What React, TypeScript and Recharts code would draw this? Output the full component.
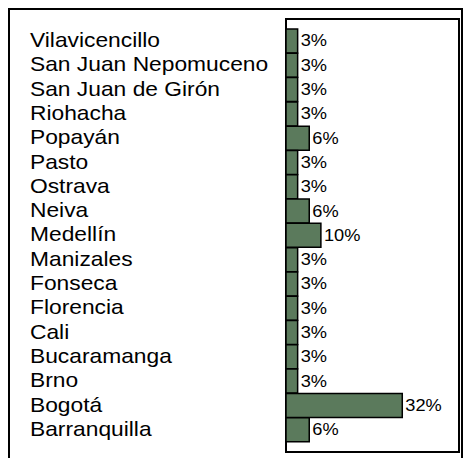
import React from "react";
import { BarChart, Bar, XAxis, YAxis, LabelList } from "recharts";

const cities = [
  "Vilavicencillo",
  "San Juan Nepomuceno",
  "San Juan de Girón",
  "Riohacha",
  "Popayán",
  "Pasto",
  "Ostrava",
  "Neiva",
  "Medellín",
  "Manizales",
  "Fonseca",
  "Florencia",
  "Cali",
  "Bucaramanga",
  "Brno",
  "Bogotá",
  "Barranquilla",
];

const shares = [
  3.23, 3.23, 3.23, 3.23, 6.45, 3.23, 3.23, 6.45, 9.68, 3.23, 3.23, 3.23, 3.23,
  3.23, 3.23, 32.26, 6.45,
];

const data = cities.map((city, i) => ({ city, share: shares[i] }));

const STRETCH = 1.14;
const FONT = "'Liberation Sans', Arial, sans-serif";

const CityTick = (props: any) => {
  const { y, payload } = props;
  const x = 30;
  return (
    <text
      x={x}
      y={y + 6}
      fontFamily={FONT}
      fontSize={20}
      fill="#000"
      textAnchor="start"
      transform={`translate(${x},0) scale(${STRETCH},1) translate(${-x},0)`}
    >
      {payload.value}
    </text>
  );
};

const ValueLabel = (props: any) => {
  const { x, y, width, height, value } = props;
  const lx = x + width + 3;
  return (
    <text
      x={lx}
      y={y + height / 2 + 5.5}
      fontFamily={FONT}
      fontSize={16}
      fill="#000"
      textAnchor="start"
      transform={`translate(${lx},0) scale(${STRETCH},1) translate(${-lx},0)`}
    >
      {Math.round(value)}%
    </text>
  );
};

export default function App() {
  return (
    <div
      style={{
        position: "absolute",
        left: 0,
        top: 0,
        width: 463,
        height: 458,
        overflow: "hidden",
        background: "#fff",
      }}
    >
      <div
        style={{
          position: "absolute",
          left: 8,
          top: 8,
          width: 455,
          height: 480,
          border: "2px solid #000",
          boxSizing: "border-box",
        }}
      />
      <div
        style={{
          position: "absolute",
          left: 285,
          top: 18,
          width: 175,
          height: 435,
          border: "2px solid #000",
          boxSizing: "border-box",
        }}
      />
      <div style={{ position: "absolute", left: 0, top: 0 }}>
        <BarChart
          width={463}
          height={458}
          data={data}
          layout="vertical"
          margin={{ top: 19, right: 4, bottom: 6, left: 30 }}
          barCategoryGap={0}
        >
          <XAxis type="number" domain={[0, 48]} hide />
          <YAxis
            type="category"
            dataKey="city"
            width={256}
            axisLine={false}
            tickLine={false}
            tick={<CityTick />}
            interval={0}
            padding={{ top: 10, bottom: 10 }}
          />
          <Bar
            dataKey="share"
            fill="#5b7a5c"
            stroke="#000"
            strokeWidth={1.5}
            isAnimationActive={false}
          >
            <LabelList dataKey="share" content={<ValueLabel />} />
          </Bar>
        </BarChart>
      </div>
    </div>
  );
}
